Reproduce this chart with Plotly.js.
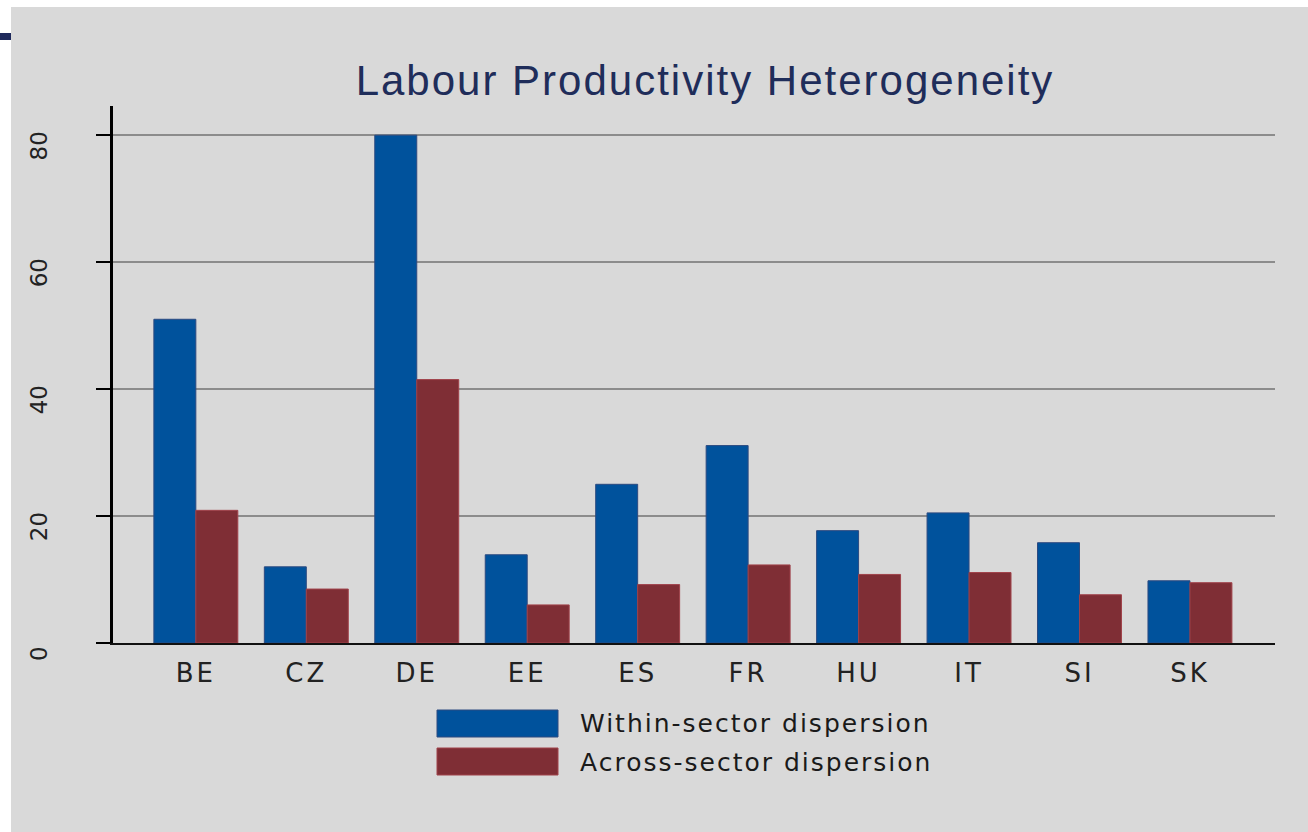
<!DOCTYPE html>
<html>
<head>
<meta charset="utf-8">
<script src="https://cdn.plot.ly/plotly-3.0.1.min.js"></script>
<style>
html,body{margin:0;padding:0;background:#fff;}
#chart{width:1308px;height:832px;}
#chart .gtitle{letter-spacing:2px;}
#chart .xtick text{letter-spacing:3px;}
#chart .annotation-text{letter-spacing:2px;}
</style>
</head>
<body>
<div id="chart"></div>
<script>
const countries = ["BE","CZ","DE","EE","ES","FR","HU","IT","SI","SK"];
const withinSector = [51.0, 12.0, 80.0, 13.9, 25.0, 31.1, 17.7, 20.5, 15.8, 9.8];
const acrossSector = [20.9, 8.5, 41.5, 6.0, 9.2, 12.3, 10.8, 11.1, 7.6, 9.5];
const seriesNames = ["Within-sector dispersion", "Across-sector dispersion"];
const yTicks = [0, 20, 40, 60, 80];
const titleText = "Labour Productivity Heterogeneity";

const W = 1308, H = 832;
const L = 113, R = 33, T = 106, B = 189;
const pw = W - L - R, ph = H - T - B;
const px = x => (x - L) / pw;
const py = y => (H - B - y) / ph;

const traces = [
  {type: "bar", x: countries, y: withinSector, name: seriesNames[0],
   marker: {color: "#00529c", line: {color: "#2c4a80", width: 1}}, showlegend: false},
  {type: "bar", x: countries, y: acrossSector, name: seriesNames[1],
   marker: {color: "#7f2e35", line: {color: "#a0424a", width: 1}}, showlegend: false}
];

const shapes = [
  {type: "rect", xref: "paper", yref: "paper", x0: px(0), x1: px(11), y0: py(832), y1: py(0), fillcolor: "#ffffff", line: {width: 0}, layer: "above"},
  {type: "rect", xref: "paper", yref: "paper", x0: px(0), x1: px(1308), y0: py(7), y1: py(0), fillcolor: "#ffffff", line: {width: 0}, layer: "above"},
  {type: "rect", xref: "paper", yref: "paper", x0: px(0), x1: px(11), y0: py(40), y1: py(33), fillcolor: "#1f2a5c", line: {width: 0}, layer: "above"},
  // legend swatches
  {type: "rect", xref: "paper", yref: "paper", x0: px(437), x1: px(558), y0: py(737), y1: py(710), fillcolor: "#00529c", line: {color: "#2c4a80", width: 1}},
  {type: "rect", xref: "paper", yref: "paper", x0: px(437), x1: px(558), y0: py(775), y1: py(748), fillcolor: "#7f2e35", line: {color: "#a0424a", width: 1}}
];

const annotations = [
  {xref: "paper", yref: "paper", x: px(602), y: py(723), xanchor: "left", yanchor: "middle", showarrow: false,
   text: seriesNames[0], font: {family: "DejaVu Sans", size: 25, color: "#1a1a1a"}},
  {xref: "paper", yref: "paper", x: px(602), y: py(762), xanchor: "left", yanchor: "middle", showarrow: false,
   text: seriesNames[1], font: {family: "DejaVu Sans", size: 25, color: "#1a1a1a"}}
];

const layout = {
  width: W, height: H,
  margin: {l: L, r: R, t: T, b: B, pad: 0},
  paper_bgcolor: "#d9d9d9",
  plot_bgcolor: "#d9d9d9",
  title: {text: titleText, xref: "container", x: 705 / W, xanchor: "center", yref: "container", y: 1 - 80 / H, yanchor: "middle",
          font: {family: "Liberation Sans", size: 42, color: "#1f2d5a"}},
  barmode: "group",
  bargap: 0.24,
  bargroupgap: 0,
  showlegend: false,
  xaxis: {
    type: "category",
    range: [-0.75, 9.77],
    showgrid: false, zeroline: false,
    showline: true, linecolor: "#111111", linewidth: 2,
    ticks: "", ticklabelstandoff: 6,
    tickfont: {family: "DejaVu Sans", size: 26, color: "#222222"}
  },
  yaxis: {
    range: [0, 84.6],
    tickvals: yTicks,
    ticktext: yTicks.map(String),
    showgrid: true, gridcolor: "#8c8c8c", gridwidth: 1.5,
    zeroline: false,
    showline: true, linecolor: "#000000", linewidth: 3,
    ticks: "outside", ticklen: 14, tickwidth: 2, tickcolor: "#000000",
    tickangle: -90,
    ticklabelstandoff: 40,
    ticklabelshift: 14,
    tickfont: {family: "DejaVu Sans", size: 23, color: "#222222"}
  },
  shapes: shapes,
  annotations: annotations
};

Plotly.newPlot("chart", traces, layout, {displayModeBar: false, staticPlot: true});
</script>
</body>
</html>
